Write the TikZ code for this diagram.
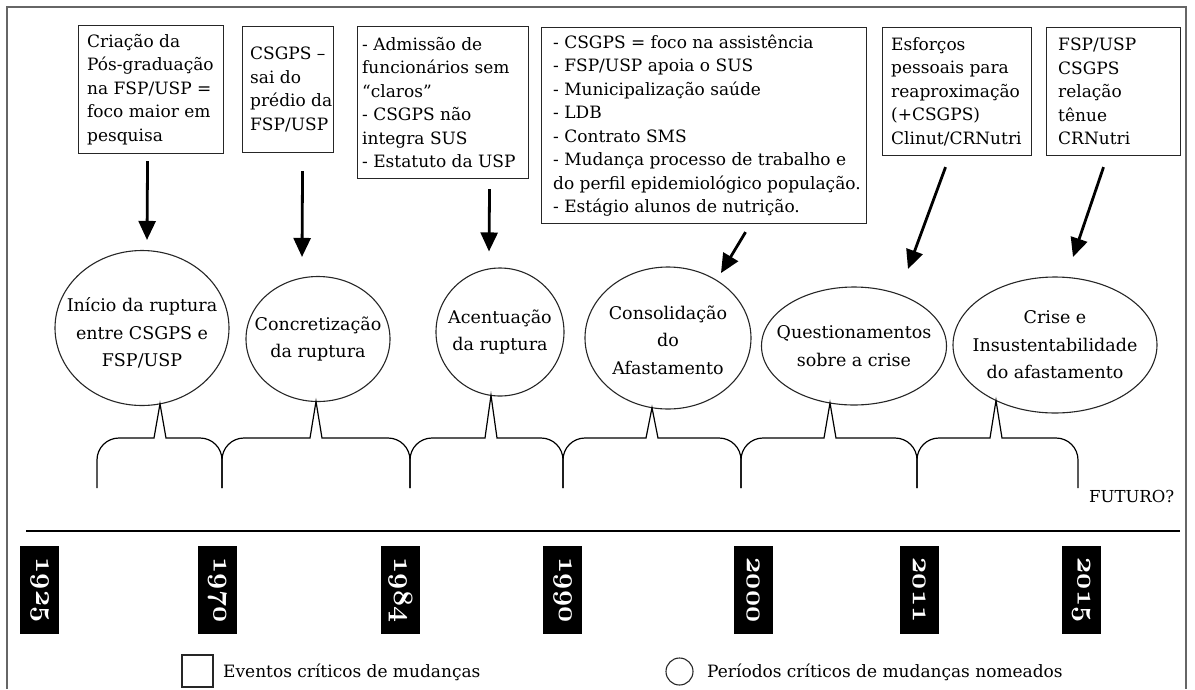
\documentclass[tikz,border=0pt]{standalone}
\usepackage{fix-cm}
\usepackage{fontspec}
\setmainfont{DejaVu Serif}
\usetikzlibrary{arrows.meta,calc,shapes.geometric}
\newcommand{\osyear}[1]{{\usefont{OML}{cmm}{b}{it}\fontsize{28}{28}\selectfont #1}}
\begin{document}
\begin{tikzpicture}[x=1pt,y=-1pt,
  evbox/.style={draw=black!85, line width=1.1pt, anchor=north west, inner sep=0pt},
  evtext/.style={align=left, anchor=west, inner sep=0pt,
    font=\fontsize{17}{23.5}\selectfont},
  period/.style={draw=black!85, line width=1.1pt, ellipse, inner sep=0pt},
  ptext/.style={align=center, inner sep=0pt, font=\fontsize{17.5}{27.5}\selectfont},
  arr/.style={line width=2.8pt, -{Triangle[length=19pt,width=17pt]}},
  bracepath/.style={line width=1.2pt, line join=miter},
  yearlabel/.style={fill=black, text=white, rotate=-90, minimum width=88pt,
    minimum height=39pt, inner sep=0pt},
  legtext/.style={anchor=base west, inner sep=0pt, font=\fontsize{17}{20}\selectfont},
]
\useasboundingbox (0,0) rectangle (1195,689);
\draw[black!60, line width=1.4pt] (7,689) -- (7,7) -- (1186,7) -- (1186,689);

% event boxes
\node[evbox, minimum width=145pt, minimum height=128pt] (b1) at (78,25) {};
\node[evbox, minimum width=91pt, minimum height=126pt] (b2) at (242,26) {};
\node[evbox, minimum width=171pt, minimum height=152pt] (b3) at (357,26) {};
\node[evbox, minimum width=325pt, minimum height=196pt] (b4) at (541,27) {};
\node[evbox, minimum width=149pt, minimum height=128pt] (b5) at (882,27) {};
\node[evbox, minimum width=134pt, minimum height=128pt] (b6) at (1046,27) {};
\node[evtext] (b1t) at ($(b1.west)+(9,0)$)
  {Criação da\\ Pós-graduação\\ na FSP/USP =\\ foco maior em\\ pesquisa};
\node[evtext] (b2t) at ($(b2.west)+(8,0)$)
  {CSGPS –\\ sai do\\ prédio da\\ FSP/USP};
\node[evtext] (b3t) at ($(b3.west)+(5,0)$)
  {- Admissão de\\ funcionários sem\\ “claros”\\ - CSGPS não\\ integra SUS\\ - Estatuto da USP};
\node[evtext] (b4t) at ($(b4.west)+(12,0)$)
  {- CSGPS = foco na assistência\\ - FSP/USP apoia o SUS\\ - Municipalização saúde\\ - LDB\\ - Contrato SMS\\ - Mudança processo de trabalho e\\ do perfil epidemiológico população.\\ - Estágio alunos de nutrição.};
\node[evtext] (b5t) at ($(b5.west)+(9,0)$)
  {Esforços\\ pessoais para\\ reaproximação\\ (+CSGPS)\\ Clinut/CRNutri};
\node[evtext] (b6t) at ($(b6.west)+(12,0)$)
  {FSP/USP\\ CSGPS\\ relação\\ tênue\\ CRNutri};

% periods
\node[period, minimum width=174pt, minimum height=155pt] (e1) at (142,328) {};
\node[period, minimum width=144pt, minimum height=125pt] (e2) at (318,339) {};
\node[period, minimum width=128pt, minimum height=128pt] (e3) at (500,332) {};
\node[period, minimum width=166pt, minimum height=142pt] (e4) at (668,338) {};
\node[period, minimum width=185pt, minimum height=118pt] (e5) at (854,346) {};
\node[period, minimum width=204pt, minimum height=136pt] (e6) at (1055,345) {};
\node[ptext] (t1) at ($(e1.center)+(0,5)$) {Início da ruptura\\ entre CSGPS e\\ FSP/USP};
\node[ptext] (t2) at (e2.center) {Concretização\\ da ruptura};
\node[ptext] (t3) at (e3.center) {Acentuação\\ da ruptura};
\node[ptext] (t4) at ($(e4.center)+(0,2)$) {Consolidação\\ do\\ Afastamento};
\node[ptext] (t5) at (e5.center) {Questionamentos\\ sobre a crise};
\node[ptext] (t6) at (e6.center) {Crise e\\ Insustentabilidade\\ do afastamento};

% arrows
\draw[arr] ($(b1.south)+(-3.5,7)$) -- ($(e1.north)+(5,-10)$);
\draw[arr] ($(b2.south)+(14.5,18)$) -- ($(e2.north)+(-16,-19)$);
\draw[arr] ($(b3.south)+(46.5,10)$) -- ($(e3.north)+(-11,-16)$);
\draw[arr] ($(b4.south)+(41.5,8)$) -- ($(e4.center)+(53,-65)$);
\draw[arr] ($(b5.south)+(-11.5,11)$) -- ($(e5.center)+(54,-77)$);
\draw[arr] ($(b6.south)+(-10,11)$) -- ($(e6.center)+(18,-88)$);

% braces
\foreach \xl/\xr/\xs/\e/\dx/\dy in {97/222/160/e1/18/75.8, 222/410/316/e2/-2/62.5,
    410/563/491/e3/-9/63.4, 563/741/652/e4/-16/69.7, 741/917/830/e5/-24/57,
    917/1078/996/e6/-59/55.5}
  \draw[bracepath] (\xl,488) -- (\xl,460) to[out=90,in=180] (\xl+22,438) -- (\xs-6,438)
    -- ($(\e.center)+(\dx,\dy)$) -- (\xs+6,438) -- (\xr-22,438) to[out=0,in=90] (\xr,460) -- (\xr,488);
\node[anchor=west, inner sep=0pt, font=\fontsize{16.5}{17}\selectfont] (fut) at (1089,496) {FUTURO?};

% timeline
\draw[line width=2.6pt] (26,531) -- (1180,531);
\node[yearlabel] (y1925) at (39.5,590) {\osyear{1925}};
\node[yearlabel] (y1970) at (217,590) {\osyear{1970}};
\node[yearlabel] (y1984) at (400.5,590) {\osyear{1984}};
\node[yearlabel] (y1990) at (562.5,590) {\osyear{1990}};
\node[yearlabel] (y2000) at (753,590) {\osyear{2000}};
\node[yearlabel] (y2011) at (919,590) {\osyear{2011}};
\node[yearlabel] (y2015) at (1081,590) {\osyear{2015}};

% legend
\node[draw=black!85, line width=1.1pt, minimum width=31pt, minimum height=32pt, inner sep=0pt] (lgbox) at (197.5,671) {};
\node[legtext] (lgboxt) at (223,677) {Eventos críticos de mudanças};
\node[draw=black!85, circle, line width=1.1pt, minimum size=27pt, inner sep=0pt] (lgcirc) at (679.5,671.5) {};
\node[legtext] (lgcirct) at (707,677) {Períodos críticos de mudanças nomeados};
\end{tikzpicture}
\end{document}
